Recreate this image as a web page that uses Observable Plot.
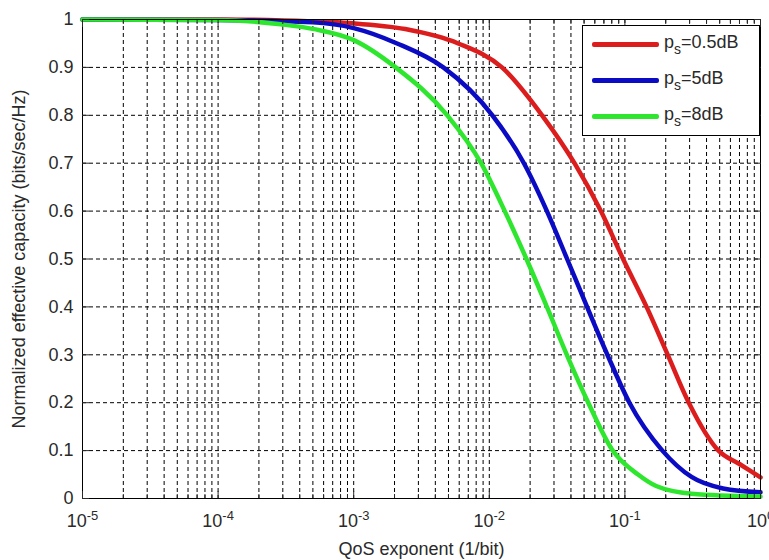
<!DOCTYPE html>
<html>
<head>
<meta charset="utf-8">
<script src="https://cdn.jsdelivr.net/npm/d3@7"></script>
<script src="https://cdn.jsdelivr.net/npm/@observablehq/plot@0.6"></script>
<style>
  body { margin: 0; background: #fff; font-family: "Liberation Sans", Arial, sans-serif; }
  #wrap { position: relative; width: 769px; height: 560px; overflow: hidden; }
  #legend { position: absolute; left: 582px; top: 25px; width: 176px; height: 109px;
            border: 1px solid #000; background: #fff; }
  .row { position: absolute; left: 0; width: 176px; height: 36px; }
  .sw { position: absolute; left: 9px; top: 16px; width: 67px; height: 5px; border-radius: 2px; }
  .lt { position: absolute; left: 81px; top: 6px; font-size: 18px; color: #2a2a2a; white-space: nowrap; line-height: 20px; }
  .lt .sub { font-size: 14px; position: relative; top: 6px; }
</style>
</head>
<body>
<div id="wrap"><div id="chart"></div><div id="legend"></div></div>
<script>
// ---- data (QoS exponent, normalized effective capacity) ----
const qos05dB = [1e-5, 1e-4, 3e-4, 6.3e-4, 1e-3, 2.4e-3, 5.9e-3, 0.0124, 0.0245, 0.0425, 0.0665, 0.097, 0.1445, 0.207, 0.296, 0.49, 0.7, 1];
const cap05dB = [1, 1, 0.998, 0.995, 0.992, 0.98, 0.95, 0.9, 0.8, 0.7, 0.6, 0.5, 0.4, 0.3, 0.2, 0.1, 0.072, 0.044];
const qos5dB  = [1e-5, 1e-4, 5e-4, 1e-3, 2.09e-3, 4.58e-3, 0.01054, 0.018, 0.0266, 0.0375, 0.0526, 0.0743, 0.108, 0.189, 0.31, 0.53, 1];
const cap5dB  = [1, 0.999, 0.994, 0.982, 0.95, 0.9, 0.8, 0.7, 0.6, 0.5, 0.4, 0.3, 0.2, 0.1, 0.045, 0.021, 0.013];
const qos8dB  = [1e-5, 1e-4, 2.9e-4, 5.1e-4, 1e-3, 2.04e-3, 4.9e-3, 0.0087, 0.013, 0.0188, 0.0266, 0.0373, 0.0537, 0.0813, 0.125, 0.17, 0.31, 1];
const cap8dB  = [1, 0.999, 0.99, 0.98, 0.957, 0.9, 0.8, 0.7, 0.6, 0.5, 0.4, 0.3, 0.2, 0.1, 0.05, 0.026, 0.01, 0.004];
const seriesNames = ["0.5dB", "5dB", "8dB"];
const seriesColors = ["#dc1d1d", "#0b0bc4", "#2ee62e"];
const xMajorTicks = [1e-5, 1e-4, 1e-3, 1e-2, 1e-1, 1];
const minorMultipliers = [2, 3, 4, 5, 6, 7, 8, 9];
const yTicks = [0, 0.1, 0.2, 0.3, 0.4, 0.5, 0.6, 0.7, 0.8, 0.9, 1];
const xLabel = "QoS exponent (1/bit)";
const yLabel = "Normalized effective capacity (bits/sec/Hz)";

const seriesX = [qos05dB, qos5dB, qos8dB];
const seriesY = [cap05dB, cap5dB, cap8dB];
const table = seriesNames.flatMap((name, s) => seriesX[s].map((q, i) => ({q, c: seriesY[s][i], series: name})));
const xMinorTicks = xMajorTicks.slice(0, -1).flatMap(d => minorMultipliers.map(m => m * d));
const xGrid = xMajorTicks.concat(xMinorTicks);

const chart = Plot.plot({
  width: 769, height: 560,
  marginLeft: 82, marginRight: 9, marginTop: 19, marginBottom: 62,
  style: { fontFamily: "Liberation Sans, Arial, sans-serif", fontSize: "18px", background: "#fff", color: "#2a2a2a" },
  x: { type: "log", domain: [1e-5, 1] },
  y: { domain: [0, 1] },
  color: { domain: seriesNames, range: seriesColors },
  marks: [
    Plot.ruleX(xGrid, { stroke: "#000", strokeWidth: 1, strokeDasharray: "4,3" }),
    Plot.ruleY(yTicks, { stroke: "#000", strokeWidth: 1, strokeDasharray: "4,3" }),
    Plot.line(table, { x: "q", y: "c", z: "series", stroke: "series", strokeWidth: 4.5, curve: "monotone-x" }),
    Plot.frame({ stroke: "#000", strokeWidth: 1 }),
    // inner ticks (MATLAB style)
    Plot.axisX(xMajorTicks, { anchor: "bottom", tickSize: -7, tickFormat: () => "", label: null }),
    Plot.axisX(xMinorTicks, { anchor: "bottom", tickSize: -4, tickFormat: () => "", label: null }),
    Plot.axisX(xMajorTicks, { anchor: "top", tickSize: -7, tickFormat: () => "", label: null }),
    Plot.axisX(xMinorTicks, { anchor: "top", tickSize: -4, tickFormat: () => "", label: null }),
    Plot.axisY(yTicks, { anchor: "left", tickSize: -7, tickFormat: () => "", label: null }),
    Plot.axisY(yTicks, { anchor: "right", tickSize: -7, tickFormat: () => "", label: null }),
    // labelled axes
    Plot.axisX(xMajorTicks, { anchor: "bottom", tickSize: 0, tickPadding: 16, fontSize: 18,
      tickFormat: d => "10^" + Math.round(Math.log10(d)),
      label: xLabel, labelAnchor: "center", labelOffset: 56, labelArrow: "none" }),
    Plot.axisY(yTicks, { anchor: "left", tickSize: 0, tickPadding: 9, fontSize: 18,
      tickFormat: d => String(d),
      label: yLabel, labelAnchor: "center", labelOffset: 70, labelArrow: "none" })
  ]
});
document.getElementById("chart").appendChild(chart);

// superscript exponents on x tick labels
d3.select(chart).selectAll("text").each(function() {
  const t = this.textContent;
  if (/^10\^-?\d+$/.test(t)) {
    const exp = t.split("^")[1];
    const sel = d3.select(this);
    sel.text("10");
    sel.append("tspan").attr("dy", "-0.55em").attr("font-size", "13px").text(exp);
  }
});

// legend
const legend = d3.select("#legend");
seriesNames.forEach((name, i) => {
  const row = legend.append("div").attr("class", "row").style("top", (36 * i) + "px");
  row.append("div").attr("class", "sw").style("background", seriesColors[i]);
  const lt = row.append("div").attr("class", "lt");
  lt.append("span").text("p");
  lt.append("span").attr("class", "sub").text("s");
  lt.append("span").text("=" + name);
});
</script>
</body>
</html>
